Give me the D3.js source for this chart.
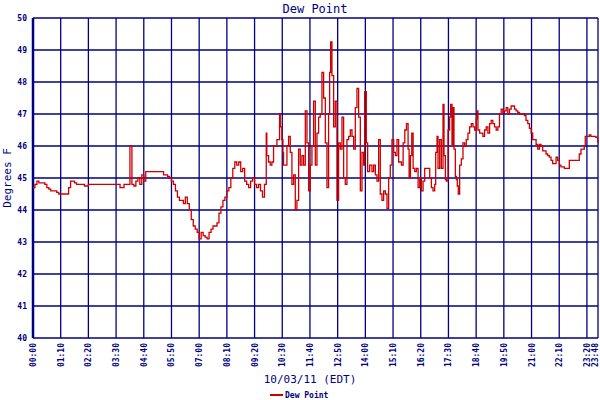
<!DOCTYPE html>
<html><head><meta charset="utf-8">
<script src="https://cdn.jsdelivr.net/npm/d3@7"></script>
<style>body{margin:0;background:#fff}text{font-family:"DejaVu Sans Mono",monospace;fill:#000080}</style>
</head><body><svg id="chart" width="600" height="400"></svg>
<script>
// minutes after midnight
var times = [0,5,10,15,20,25,30,35,40,45,50,55,60,65,70,75,80,85,90,95,100,105,110,115,120,130,140,150,160,170,180,190,200,210,220,225,230,235,240,245,250,255,260,265,270,275,280,285,290,300,310,320,330,335,340,345,350,355,360,365,370,375,380,385,390,395,400,405,410,415,420,425,430,435,440,445,450,455,460,465,470,475,480,485,490,495,500,505,510,515,520,525,530,535,540,545,550,555,560,565,570,575,580,585,
  589.5,591,595.4,599.6,603.8,608,612.3,616.5,620.7,623.2,625,629,631.7,633.3,637.6,641.8,646,650.2,654.4,658.7,662.9,667,671.3,675.5,679.7,683.9,688.2,692.4,696.6,700.8,705,709.2,713.5,717.7,721.9,726,730.3,734.5,738.8,743,747.1,749.7,752.2,755.6,759.8,764,768.2,772.4,776.7,780.9,785.1,789.3,793.5,797.8,802,806.2,810.4,814.6,818.8,823,827.3,831.5,835.7,838.2,842.4,845.8,850.8,856.7,861,865.2,869.4,873.6,877.8,882,886.2,890.5,894.7,898.9,903,907.3,911.6,915.8,920,924.2,
  931.3,935.5,939.7,943.9,948,950.6,954,957.3,960.7,964.9,969,973.3,977.5,981.7,985.9,990,994.3,998.5,1002.7,1006.9,1011,1015.3,1017.8,1021.2,1023.7,1027.9,1032,1036.3,1038.8,1042.2,1044.7,1048.9,1053,1055.6,1059,1061.5,1064,1067.4,1070,1072.3,1074.9,1078.3,1082.5,1086.7,1090.9,1095,1099.3,1103.5,1107.8,1112,1116.2,1120.3,1122,1124.6,1128.8,1133,1137,1141.3,1145.5,1149.7,1154,1158,1162.3,1166.5,1170.7,1175,1179,1183.3,1187.5,1191.7,1195.9,1200,1204.3,1208.5,1212.7,1217,1221,1225.3,1229.5,1238,1242,1246,1250.6,1254.7,1259,1263,1267.3,1271.5,1275.7,1280,1284,1288.3,1292.5,1296.7,1301,1305,1309.3,1313.5,1317.7,1322,1326,1330.3,1334.5,1338.7,1343,1351,1355.5,1376.5,1380.7,1385,1389,1393.3,1395.8,1401.7,1406,1410,1422.7,1427,1428];
var dewPoint = [44.7,44.8,44.9,44.85,44.85,44.85,44.8,44.7,44.65,44.6,44.6,44.6,44.55,44.5,44.5,44.5,44.5,44.5,44.7,44.9,44.9,44.85,44.8,44.8,44.8,44.75,44.8,44.8,44.8,44.8,44.8,44.8,44.8,44.8,44.7,44.7,44.8,44.8,44.8,46.0,44.8,44.75,44.9,45.0,44.8,45.1,44.9,45.2,45.2,45.2,45.2,45.2,45.1,45.1,45.05,45.0,44.9,44.8,44.6,44.4,44.3,44.3,44.2,44.4,44.2,44.0,43.7,43.5,43.4,43.3,43.1,43.3,43.2,43.15,43.1,43.3,43.4,43.5,43.5,43.6,43.9,44.1,44.3,44.4,44.6,44.7,45.0,45.3,45.5,45.4,45.5,45.2,45.3,44.9,44.8,44.7,44.9,45.0,44.8,44.7,44.8,44.6,44.4,44.8,
  46.4,45.7,45.5,45.4,45.5,46.0,46.0,46.2,46.2,47.0,46.6,46.2,45.8,45.4,45.4,46.0,46.3,45.8,44.8,45.1,44.0,44.3,45.9,45.4,45.7,45.4,47.1,46.1,44.6,45.4,46.0,47.4,45.4,46.4,46.9,47.0,48.3,47.5,46.1,44.7,47.0,48.3,49.25,48.2,46.6,47.4,44.3,46.1,45.9,46.9,45.0,44.8,46.2,46.3,46.5,46.3,45.9,47.2,47.8,46.9,44.6,45.8,45.4,47.7,46.1,45.2,45.4,45.2,45.4,45.1,44.9,46.2,44.5,44.3,44.6,44.5,44.05,45.0,45.4,46.2,45.8,45.7,46.2,45.5,
  45.4,46.1,46.5,46.7,45.9,45.0,45.7,46.4,45.3,45.2,45.3,44.7,45.0,44.6,44.9,45.3,45.3,45.3,45.0,44.7,44.6,44.8,45.8,46.3,45.3,46.2,45.3,47.3,45.7,44.95,44.9,46.5,46.9,47.3,46.0,47.2,45.9,45.05,44.95,44.75,44.5,45.4,45.6,46.1,46.0,46.2,46.4,46.6,46.7,46.6,46.5,46.85,47.1,46.5,46.4,46.4,46.3,46.5,46.6,46.4,46.7,46.8,46.7,46.6,46.5,46.6,47.0,47.15,47.05,47.1,47.2,47.0,47.15,47.25,47.25,47.15,47.1,47.05,47.0,47.0,46.95,46.8,46.7,46.55,46.4,46.2,46.2,46.05,45.9,46.05,46.0,45.85,45.85,45.75,45.7,45.65,45.55,45.45,45.45,45.65,45.55,45.4,45.35,45.35,45.3,45.3,45.55,45.55,45.75,45.9,45.9,46.0,46.3,46.3,46.35,46.3,46.27,46.15,46.1];
var xTicks = [0,70,140,210,280,350,420,490,560,630,700,770,840,910,980,1050,1120,1190,1260,1330,1400,1428];
var xTickLabels = ["00:00","01:10","02:20","03:30","04:40","05:50","07:00","08:10","09:20","10:30","11:40","12:50","14:00","15:10","16:20","17:30","18:40","19:50","21:00","22:10","23:20","23:48"];
var yTicks = [40,41,42,43,44,45,46,47,48,49,50];

var navy = "#000080", red = "#cc0000";
var svg = d3.select("#chart");
var x = d3.scaleLinear().domain([0, 1428]).range([33, 598]);
var y = d3.scaleLinear().domain([40, 50]).range([338, 18]);

var grid = svg.append("g").attr("stroke", navy).attr("stroke-width", 1.3);
grid.selectAll(".gy").data(yTicks).enter().append("line")
  .attr("x1", 33).attr("x2", 598)
  .attr("y1", function(d) { return y(d); }).attr("y2", function(d) { return y(d); });
grid.selectAll(".gx").data(xTicks).enter().append("line")
  .attr("y1", 18).attr("y2", 338)
  .attr("x1", function(d) { return x(d); }).attr("x2", function(d) { return x(d); });
svg.append("line").attr("x1", 33).attr("x2", 33).attr("y1", 18).attr("y2", 338)
  .attr("stroke", navy).attr("stroke-width", 2.5);

var pts = times.map(function(t, i) { return [t, dewPoint[i]]; });
svg.append("path").datum(pts)
  .attr("fill", "none").attr("stroke", red).attr("stroke-width", 1.3)
  .attr("d", d3.line().curve(d3.curveStepAfter)
    .x(function(d) { return x(d[0]); }).y(function(d) { return y(d[1]); }));

svg.selectAll(".yl").data(yTicks).enter().append("text")
  .attr("x", 27).attr("y", function(d) { return y(d) + 3; })
  .attr("text-anchor", "end").attr("font-size", 8).attr("font-weight", "bold")
  .text(function(d) { return d; });
svg.selectAll(".xl").data(xTicks).enter().append("text")
  .attr("transform", function(d) { return "translate(" + Math.min(x(d) + 3, 598) + ",343) rotate(-90)"; })
  .attr("text-anchor", "end").attr("font-size", 8).attr("font-weight", "bold")
  .text(function(d, i) { return xTickLabels[i]; });

svg.append("text").attr("x", 315).attr("y", 13).attr("text-anchor", "middle")
  .attr("font-size", 12).text("Dew Point");
svg.append("text").attr("transform", "translate(11,178) rotate(-90)")
  .attr("text-anchor", "middle").attr("font-size", 11).text("Degrees F");
svg.append("text").attr("x", 310).attr("y", 383).attr("text-anchor", "middle")
  .attr("font-size", 11).text("10/03/11 (EDT)");
svg.append("line").attr("x1", 270).attr("x2", 283).attr("y1", 395).attr("y2", 395)
  .attr("stroke", red).attr("stroke-width", 2);
svg.append("text").attr("x", 285).attr("y", 398).attr("font-size", 8)
  .attr("font-weight", "bold").text("Dew Point");
</script></body></html>
